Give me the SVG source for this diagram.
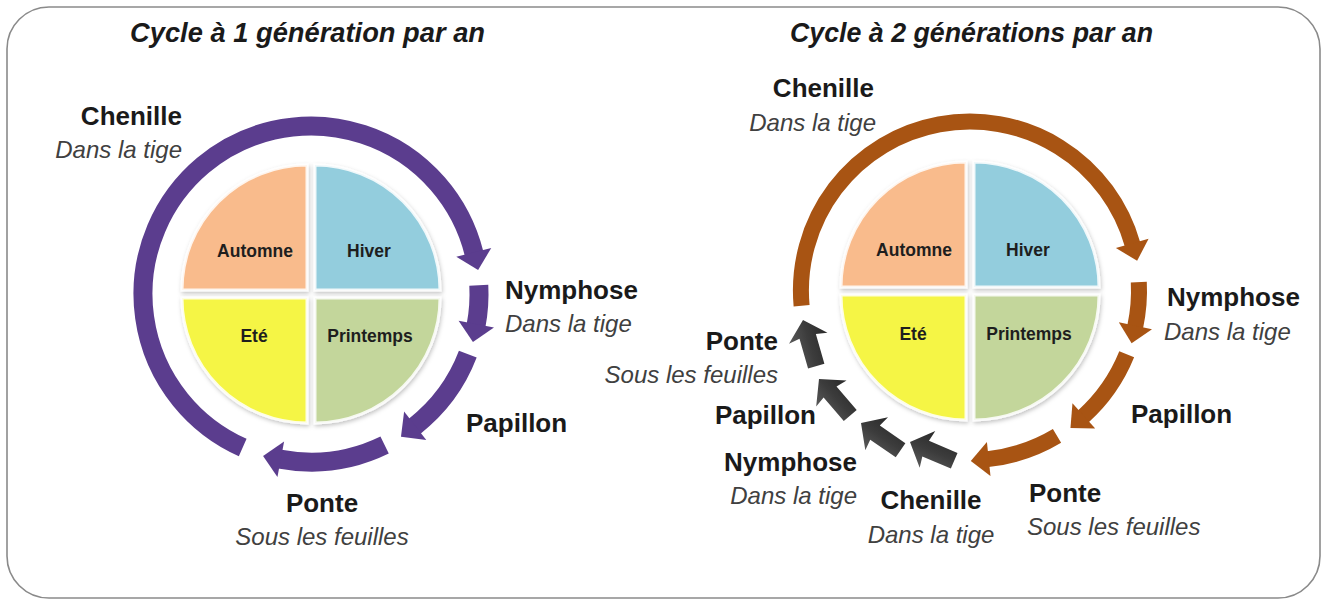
<svg xmlns="http://www.w3.org/2000/svg" xmlns:xlink="http://www.w3.org/1999/xlink" width="1325" height="601" viewBox="0 0 1325 601">
<style>
.t{font-family:"Liberation Sans",Arial,sans-serif;font-weight:bold;font-style:italic;font-size:27px;fill:#1a1a1a}
.b{font-family:"Liberation Sans",Arial,sans-serif;font-weight:bold;font-size:26px;fill:#1a1a1a}
.i{font-family:"Liberation Sans",Arial,sans-serif;font-style:italic;font-size:24px;fill:#404040}
.q{font-family:"Liberation Sans",Arial,sans-serif;font-weight:bold;font-size:17.5px;fill:#1e1e1e;text-anchor:middle}
.quad{stroke:#ffffff;stroke-width:3;stroke-opacity:0.85;filter:url(#sh)}
.ring{fill:none;stroke-linecap:butt}
.pu{stroke:#5b3d8e;stroke-width:19}
.br{stroke:#a85413;stroke-width:16}
.ga{fill:url(#gg)}
</style>
<defs>
<filter id="sh" x="-10%" y="-10%" width="130%" height="130%">
<feDropShadow dx="1" dy="2" stdDeviation="2" flood-color="#000" flood-opacity="0.25"/>
</filter>
<linearGradient id="gg" x1="0" y1="0" x2="0" y2="1">
<stop offset="0" stop-color="#5a5a5a"/>
<stop offset="0.5" stop-color="#3c3c3c"/>
<stop offset="1" stop-color="#2a2a2a"/>
</linearGradient>
<marker id="mp" markerUnits="userSpaceOnUse" markerWidth="40" markerHeight="40" refX="0" refY="0" orient="auto" overflow="visible">
<path d="M-1,-18 L17,0 L-1,18 Z" fill="#5b3d8e"/>
</marker>
<marker id="mb" markerUnits="userSpaceOnUse" markerWidth="40" markerHeight="40" refX="0" refY="0" orient="auto" overflow="visible">
<path d="M-1,-17 L17,0 L-1,17 Z" fill="#a85413"/>
</marker>
<path id="gar" d="M0,0 L-19,-20 L-17,-8.5 L-48,-8.5 L-48,8.5 L-17,8.5 L-19,20 Z"/>
</defs>
<rect x="7" y="7" width="1313" height="591" rx="42" ry="42" fill="#ffffff" stroke="#8a8a8a" stroke-width="1.6"/>

<g id="titles">
<text class="t" x="130" y="42" textLength="355" lengthAdjust="spacingAndGlyphs">Cycle à 1 génération par an</text>
<text class="t" x="790" y="42" textLength="363" lengthAdjust="spacingAndGlyphs">Cycle à 2 générations par an</text>
</g>

<g id="left-seasons">
<g id="l-automne"><path class="quad" d="M307,290 L182,290 A125,125 0 0 1 307,165 Z" fill="#f9bb8c"/><text class="q" x="255" y="257">Automne</text></g>
<g id="l-hiver"><path class="quad" d="M315,290 L315,165 A125,125 0 0 1 440,290 Z" fill="#93cddd"/><text class="q" x="369" y="257">Hiver</text></g>
<g id="l-printemps"><path class="quad" d="M315,298 L440,298 A125,125 0 0 1 315,423 Z" fill="#c3d69b"/><text class="q" x="370" y="342">Printemps</text></g>
<g id="l-ete"><path class="quad" d="M307,298 L307,423 A125,125 0 0 1 182,298 Z" fill="#f5f545"/><text class="q" x="254" y="342">Eté</text></g>
</g>

<g id="right-seasons">
<g id="r-automne"><path class="quad" d="M966,287 L841,287 A125,125 0 0 1 966,162 Z" fill="#f9bb8c"/><text class="q" x="914" y="256">Automne</text></g>
<g id="r-hiver"><path class="quad" d="M974,287 L974,162 A125,125 0 0 1 1099,287 Z" fill="#93cddd"/><text class="q" x="1028" y="256">Hiver</text></g>
<g id="r-printemps"><path class="quad" d="M974,295 L1099,295 A125,125 0 0 1 974,420 Z" fill="#c3d69b"/><text class="q" x="1029" y="340">Printemps</text></g>
<g id="r-ete"><path class="quad" d="M966,295 L966,420 A125,125 0 0 1 841,295 Z" fill="#f5f545"/><text class="q" x="913" y="340">Eté</text></g>
</g>

<g id="connectors">
<path class="ring pu" d="M242.7,447.5 A168,168 0 1 1 474.0,253.4" marker-end="url(#mp)"/>
<path class="ring pu" d="M478.8,285.2 A168,168 0 0 1 476.1,325.2" marker-end="url(#mp)"/>
<path class="ring pu" d="M467.8,354.2 A168,168 0 0 1 414.4,426.4" marker-end="url(#mp)"/>
<path class="ring pu" d="M384.6,445.0 A168,168 0 0 1 279.8,459.1" marker-end="url(#mp)"/>

<use class="ga" xlink:href="#gar" href="#gar" transform="translate(910,442) rotate(-157)"/>
<use class="ga" xlink:href="#gar" href="#gar" transform="translate(861,423) rotate(-145.5)"/>
<use class="ga" xlink:href="#gar" href="#gar" transform="translate(819,379) rotate(-130.6)"/>
<use class="ga" xlink:href="#gar" href="#gar" transform="translate(803,320) rotate(-106)"/>

<path class="ring br" d="M801.6,305.7 A169,169 0 0 1 1132.5,244.4" marker-end="url(#mb)"/>
<path class="ring br" d="M1138.8,282.2 A169,169 0 0 1 1135.2,326.7" marker-end="url(#mb)"/>
<path class="ring br" d="M1126.7,354.3 A169,169 0 0 1 1083.1,416.6" marker-end="url(#mb)"/>
<path class="ring br" d="M1057.0,435.9 A169,169 0 0 1 987.7,459.1" marker-end="url(#mb)"/>
</g>

<g id="left-labels">
<g id="l-chenille"><text class="b" x="182" y="125" text-anchor="end">Chenille</text><text class="i" x="182" y="158" text-anchor="end">Dans la tige</text></g>
<g id="l-nymphose"><text class="b" x="505" y="299">Nymphose</text><text class="i" x="505" y="332">Dans la tige</text></g>
<g id="l-papillon"><text class="b" x="466" y="432">Papillon</text></g>
<g id="l-ponte"><text class="b" x="322" y="512" text-anchor="middle">Ponte</text><text class="i" x="322" y="545" text-anchor="middle">Sous les feuilles</text></g>
</g>

<g id="right-labels">
<g id="r-chenille"><text class="b" x="874" y="97" text-anchor="end">Chenille</text><text class="i" x="876" y="131" text-anchor="end">Dans la tige</text></g>
<g id="r-nymphose"><text class="b" x="1167" y="306">Nymphose</text><text class="i" x="1164" y="340">Dans la tige</text></g>
<g id="r-papillon"><text class="b" x="1131" y="423">Papillon</text></g>
<g id="r-ponte"><text class="b" x="1029" y="502">Ponte</text><text class="i" x="1027" y="535">Sous les feuilles</text></g>
<g id="g-ponte"><text class="b" x="778" y="350" text-anchor="end">Ponte</text><text class="i" x="778" y="383" text-anchor="end">Sous les feuilles</text></g>
<g id="g-papillon"><text class="b" x="816" y="424" text-anchor="end">Papillon</text></g>
<g id="g-nymphose"><text class="b" x="857" y="471" text-anchor="end">Nymphose</text><text class="i" x="857" y="504" text-anchor="end">Dans la tige</text></g>
<g id="g-chenille"><text class="b" x="931" y="509" text-anchor="middle">Chenille</text><text class="i" x="931" y="543" text-anchor="middle">Dans la tige</text></g>
</g>
</svg>
